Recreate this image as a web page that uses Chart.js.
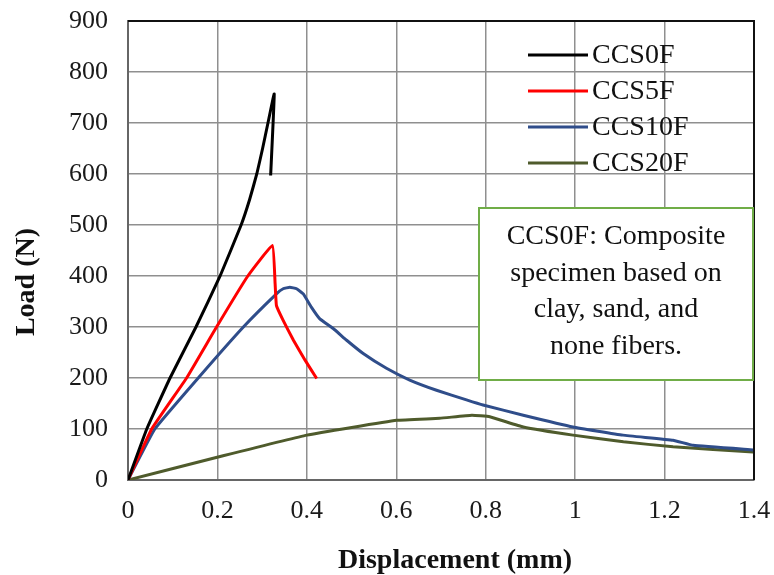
<!DOCTYPE html>
<html>
<head>
<meta charset="utf-8">
<script src="https://cdn.jsdelivr.net/npm/chart.js@4"></script>
<style>
  body { margin: 0; background: #fff; }
</style>
</head>
<body>
<canvas id="chart" width="774" height="575"></canvas>
<script>
// values
const seriesNames = ['CCS0F', 'CCS5F', 'CCS10F', 'CCS20F'];
const seriesColors = ['#000000', '#ff0000', '#2f4d8a', '#4f5b2c'];

const ccs0fX = [0, 0.042, 0.094, 0.152, 0.206, 0.253, 0.272, 0.288, 0.301, 0.313, 0.327, 0.319];
const ccs0fY = [0, 100, 200, 300, 400, 500, 550, 600, 650, 700, 757, 597];

const ccs5fX = [0, 0.053, 0.131, 0.198, 0.268, 0.323, 0.329, 0.332, 0.347, 0.37, 0.396, 0.422];
const ccs5fY = [0, 100, 200, 300, 400, 460, 385, 342, 313, 274, 235, 199];

const ccs10fX = [0, 0.06, 0.157, 0.258, 0.332, 0.347, 0.362, 0.377, 0.392, 0.41, 0.429, 0.459, 0.489,
  0.526, 0.578, 0.63, 0.69, 0.757, 0.794, 0.884, 0.995, 1.107, 1.219, 1.264, 1.398];
const ccs10fY = [0, 100, 200, 300, 365, 375, 378, 375, 365, 339, 316, 297, 274,
  248, 219, 196, 176, 157, 147, 127, 104, 88, 78, 68, 59];

const ccs20fX = [0, 0.206, 0.4, 0.601, 0.697, 0.769, 0.809, 0.884, 0.995, 1.108, 1.219, 1.398];
const ccs20fY = [0, 46, 88, 117, 121, 127, 124, 104, 88, 75, 65, 55];

const noteLines = ['CCS0F: Composite', 'specimen based on', 'clay, sand, and', 'none fibers.'];

const serif = "'Liberation Serif', 'Times New Roman', serif";

function pts(xs, ys) {
  return xs.map((x, i) => ({ x: x, y: ys[i] }));
}

const allX = [ccs0fX, ccs5fX, ccs10fX, ccs20fX];
const allY = [ccs0fY, ccs5fY, ccs10fY, ccs20fY];

// frame, legend, note box, axis titles
const decor = {
  id: 'decor',
  afterDraw(chart) {
    const c = chart.ctx;
    const a = chart.chartArea;
    c.save();
    c.strokeStyle = '#111';
    c.lineWidth = 2;
    c.beginPath();
    c.moveTo(a.left, a.top);
    c.lineTo(a.right, a.top);
    c.lineTo(a.right, a.bottom);
    c.stroke();

    // legend
    c.font = '28px ' + serif;
    c.textBaseline = 'middle';
    c.textAlign = 'left';
    seriesNames.forEach((name, i) => {
      const y = 55 + i * 36;
      c.strokeStyle = seriesColors[i];
      c.lineWidth = 3;
      c.beginPath();
      c.moveTo(528, y);
      c.lineTo(588, y);
      c.stroke();
      c.fillStyle = '#111';
      c.fillText(name, 592, y + 1);
    });

    // note box
    c.fillStyle = '#fff';
    c.fillRect(479, 208, 274, 172);
    c.strokeStyle = '#70ad47';
    c.lineWidth = 2;
    c.strokeRect(479, 208, 274, 172);
    c.fillStyle = '#111';
    c.textAlign = 'center';
    c.textBaseline = 'alphabetic';
    noteLines.forEach((t, i) => {
      c.fillText(t, 616, 244 + i * 36.5);
    });

    // axis titles
    c.font = 'bold 28px ' + serif;
    c.fillText('Displacement (mm)', 455, 568);
    c.translate(27, 282);
    c.rotate(-Math.PI / 2);
    c.textBaseline = 'middle';
    c.fillText('Load (N)', 0, 0);
    c.restore();
  }
};

new Chart(document.getElementById('chart'), {
  type: 'scatter',
  data: {
    datasets: seriesNames.map((name, i) => ({
      label: name,
      data: pts(allX[i], allY[i]),
      showLine: true,
      borderColor: seriesColors[i],
      backgroundColor: seriesColors[i],
      borderWidth: 3,
      pointRadius: 0,
      tension: 0.1
    }))
  },
  options: {
    responsive: false,
    animation: false,
    layout: { padding: { top: 21, right: 20, left: 0, bottom: 0 } },
    plugins: {
      legend: { display: false },
      tooltip: { enabled: false }
    },
    scales: {
      x: {
        type: 'linear',
        min: 0,
        max: 1.4,
        afterFit: s => { s.height = 95; s.paddingLeft = 0; s.paddingRight = 0; },
        ticks: {
          stepSize: 0.2, padding: 16, color: '#1a1a1a',
          font: { family: serif, size: 26 },
          callback: v => String(+v.toFixed(2))
        },
        grid: { color: '#8f8f8f', lineWidth: 1.5, drawTicks: false },
        border: { color: '#666', width: 2 }
      },
      y: {
        min: 0,
        max: 900,
        afterFit: s => { s.width = 128; s.paddingTop = 0; s.paddingBottom = 0; },
        ticks: { stepSize: 100, padding: 20, color: '#1a1a1a', font: { family: serif, size: 26 } },
        grid: { color: '#8f8f8f', lineWidth: 1.5, drawTicks: false },
        border: { color: '#666', width: 2 }
      }
    }
  },
  plugins: [decor]
});
</script>
</body>
</html>
